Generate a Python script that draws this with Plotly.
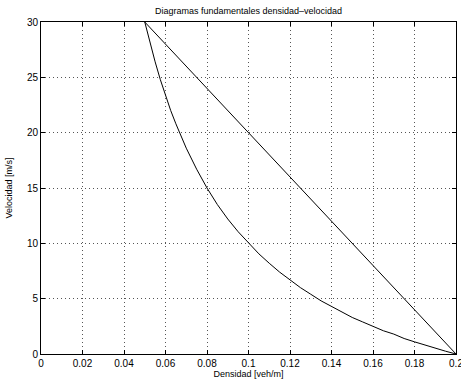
import plotly.graph_objects as go

# Data
density_curve = [0.05, 0.0525, 0.055, 0.0575, 0.06, 0.0625, 0.065, 0.07, 0.075, 0.08,
                 0.085, 0.09, 0.095, 0.10, 0.105, 0.11, 0.115, 0.12, 0.125, 0.13,
                 0.135, 0.14, 0.145, 0.15, 0.155, 0.16, 0.165, 0.17, 0.175, 0.18,
                 0.185, 0.19, 0.195, 0.20]
velocity_curve = [30.0, 28.1, 26.4, 24.8, 23.3, 22.0, 20.8, 18.6, 16.7, 15.0,
                  13.5, 12.2, 11.05, 10.0, 9.05, 8.2, 7.4, 6.7, 6.0, 5.4,
                  4.8, 4.3, 3.8, 3.3, 2.9, 2.5, 2.1, 1.8, 1.4, 1.1,
                  0.8, 0.5, 0.25, 0.0]
density_line = [0.05, 0.20]
velocity_line = [30.0, 0.0]

x_ticks = [0, 0.02, 0.04, 0.06, 0.08, 0.1, 0.12, 0.14, 0.16, 0.18, 0.2]
x_tick_labels = ["0", "0.02", "0.04", "0.06", "0.08", "0.1", "0.12", "0.14", "0.16", "0.18", "0.2"]
y_ticks = [0, 5, 10, 15, 20, 25, 30]

font = "Liberation Sans, Arial, Helvetica, sans-serif"

fig = go.Figure()
fig.add_trace(go.Scatter(x=density_line, y=velocity_line, mode="lines",
                         line=dict(color="black", width=1), showlegend=False))
fig.add_trace(go.Scatter(x=density_curve, y=velocity_curve, mode="lines",
                         line=dict(color="black", width=1), showlegend=False))

axis_common = dict(
    showline=True, linecolor="black", linewidth=1, mirror="ticks",
    ticks="inside", ticklen=4, tickcolor="black", tickwidth=1,
    showgrid=True, gridcolor="#555555", griddash="1px,3px", gridwidth=1,
    zeroline=False, tickfont=dict(family=font, size=10, color="black"),
    ticklabeloverflow="allow", automargin=False,
)

fig.update_layout(
    width=461, height=379,
    margin=dict(l=41, r=5, t=22, b=25),
    paper_bgcolor="white", plot_bgcolor="white",
    font=dict(family=font, size=10, color="black"),
    title=dict(text="Diagramas fundamentales densidad\u2013velocidad",
               font=dict(family=font, size=9, color="black"),
               x=0.5, xref="paper", xanchor="center",
               y=1 - 11 / 379, yref="container", yanchor="middle",
               automargin=False),
    xaxis=dict(range=[0, 0.2], tickvals=x_ticks, ticktext=x_tick_labels,
               title=dict(text="Densidad [veh/m]", font=dict(family=font, size=9), standoff=1),
               **axis_common),
    yaxis=dict(range=[0, 30], tickvals=y_ticks,
               title=dict(text="Velocidad [m/s]", font=dict(family=font, size=9), standoff=12),
               **axis_common),
)

fig.write_html("out.html", config={"displayModeBar": False},
               post_script="document.body.style.margin='0';document.body.style.overflow='hidden';")
